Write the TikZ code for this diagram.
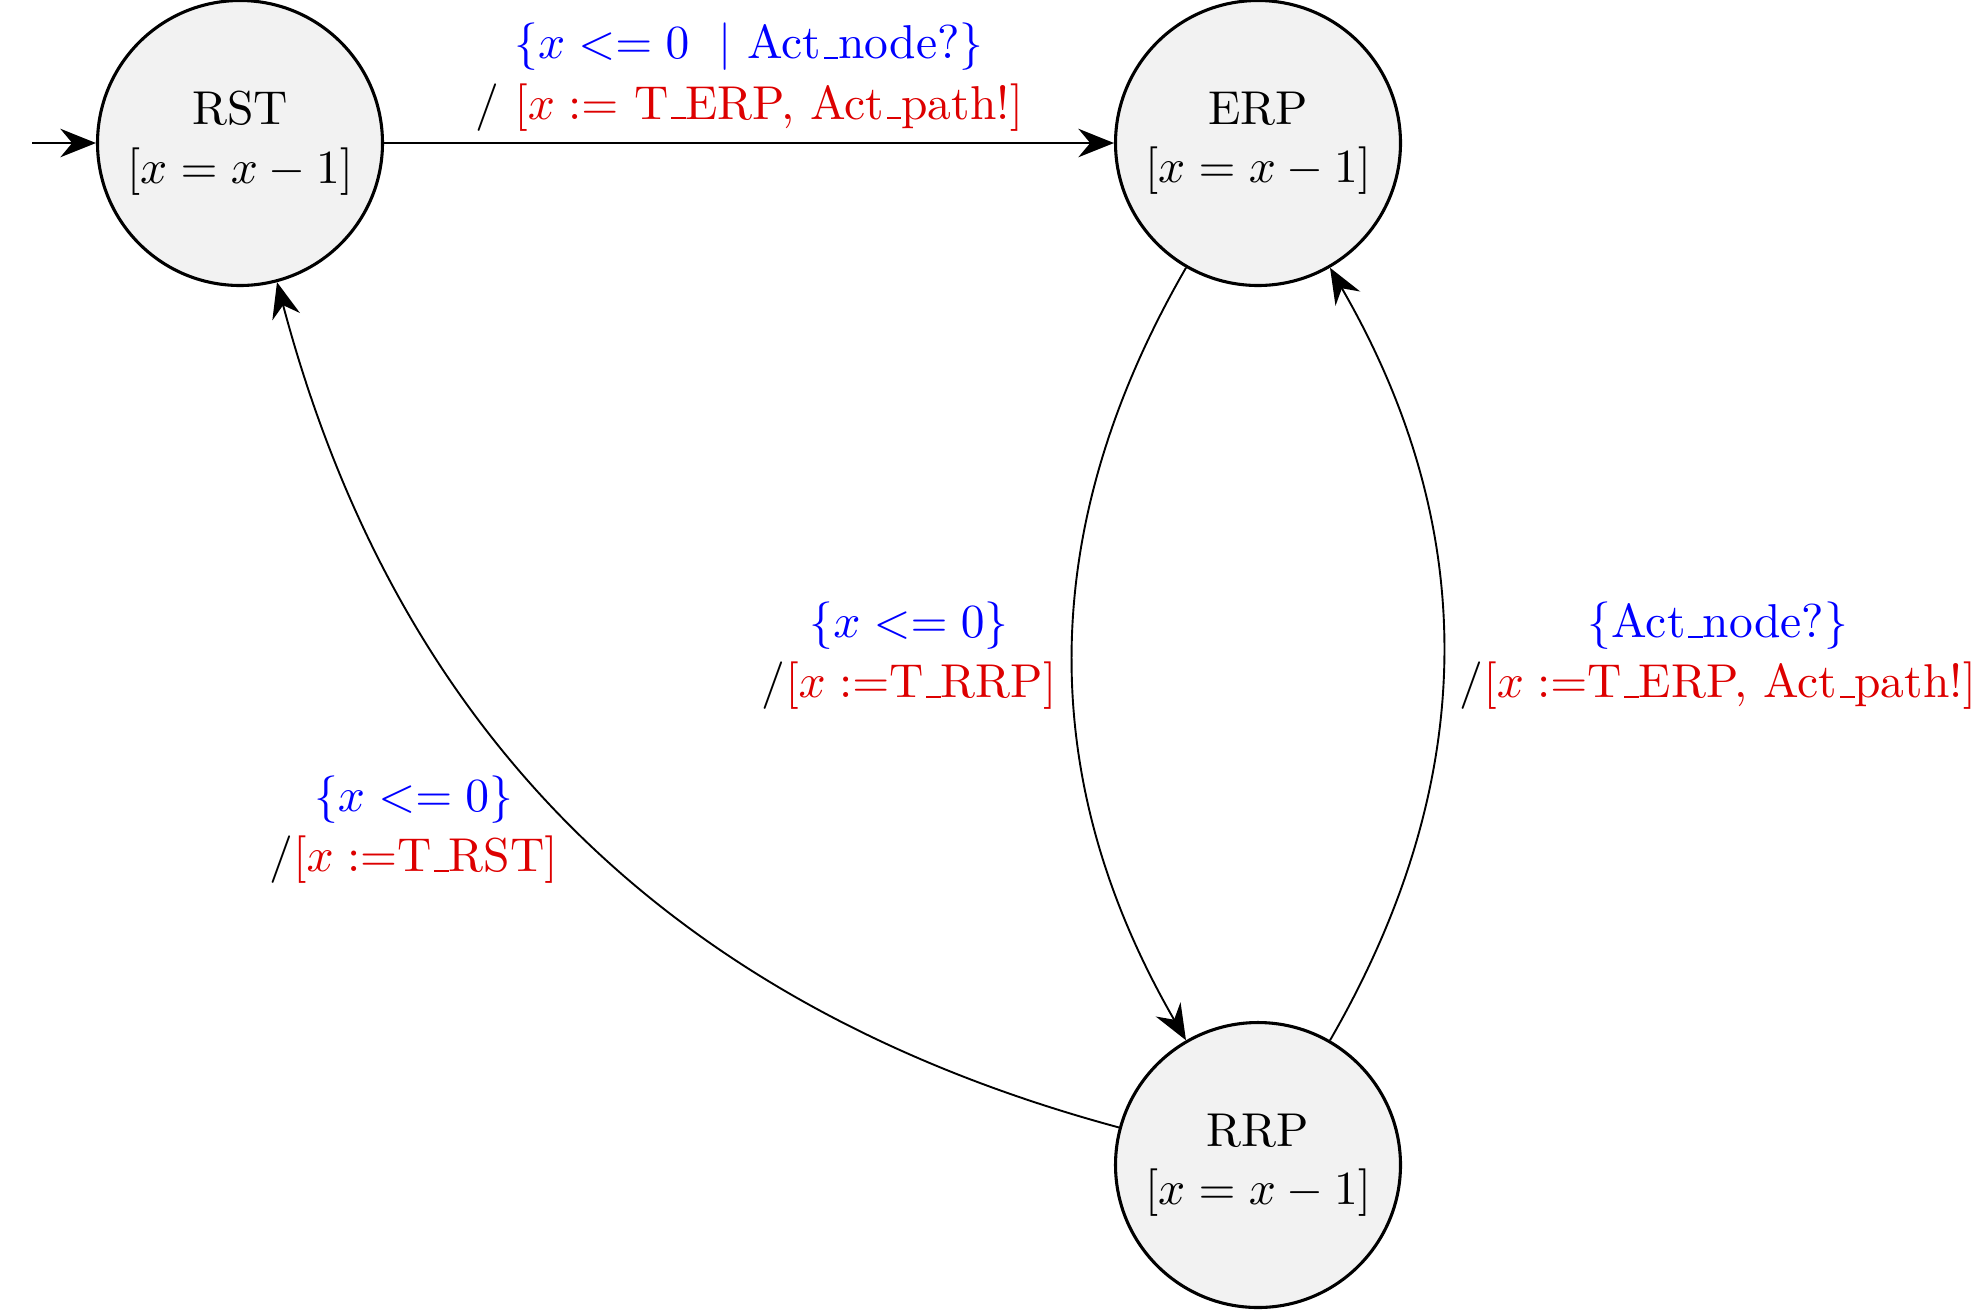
\documentclass[tikz,border=0pt]{standalone}
\usetikzlibrary{arrows.meta}
\newcommand{\us}{\leavevmode\kern.06em\vbox{\hrule width.3em}}
\definecolor{lblred}{RGB}{221,0,0}
\definecolor{lblblue}{RGB}{0,0,255}
\begin{document}
\begin{tikzpicture}[x=0.2104pt,y=0.2104pt,
  statenode/.style={circle,draw,line width=0.65pt,fill=black!5,minimum size=59.96pt,inner sep=0pt,align=center},
  edgeline/.style={line width=0.4pt,-{Stealth[length=7.5pt,width=6pt,inset=2.5pt]}},
  lbl/.style={align=center,yshift=-0.4pt}]
\useasboundingbox (0,0) rectangle (1986,-1311);
\node[statenode] (RST) at (240,-143) {RST\\[0.3pt]$[x = x-1]$};
\node[statenode] (ERP) at (1258,-143) {ERP\\[0.3pt]$[x = x-1]$};
\node[statenode] (RRP) at (1258,-1165) {RRP\\[0.3pt]$[x = x-1]$};
\coordinate (init) at (32,-143);
\draw[edgeline] (init) -- (RST);
\draw[edgeline] (RST) -- node[above,lbl,yshift=-0.6pt] {{\color{lblblue}$\{x <= 0\;\ |$ Act\us node?$\}$}\\[0.7pt]/ {\color{lblred}$[x :=$ T\us ERP, Act\us path!$]$}} (ERP);
\draw[edgeline] (ERP) to[bend right=30] node[left,lbl] {{\color{lblblue}$\{x <= 0\}$}\\[0.7pt]/{\color{lblred}$[x :=$T\us RRP$]$}} (RRP);
\draw[edgeline] (RRP) to[bend right=30] node[right,lbl] {{\color{lblblue}$\{$Act\us node?$\}$}\\[0.7pt]/{\color{lblred}$[x :=$T\us ERP, Act\us path!$]$}} (ERP);
\draw[edgeline] (RRP) to[bend left=30] node[left,lbl] {{\color{lblblue}$\{x <= 0\}$}\\[0.7pt]/{\color{lblred}$[x :=$T\us RST$]$}} (RST);
\end{tikzpicture}
\end{document}
